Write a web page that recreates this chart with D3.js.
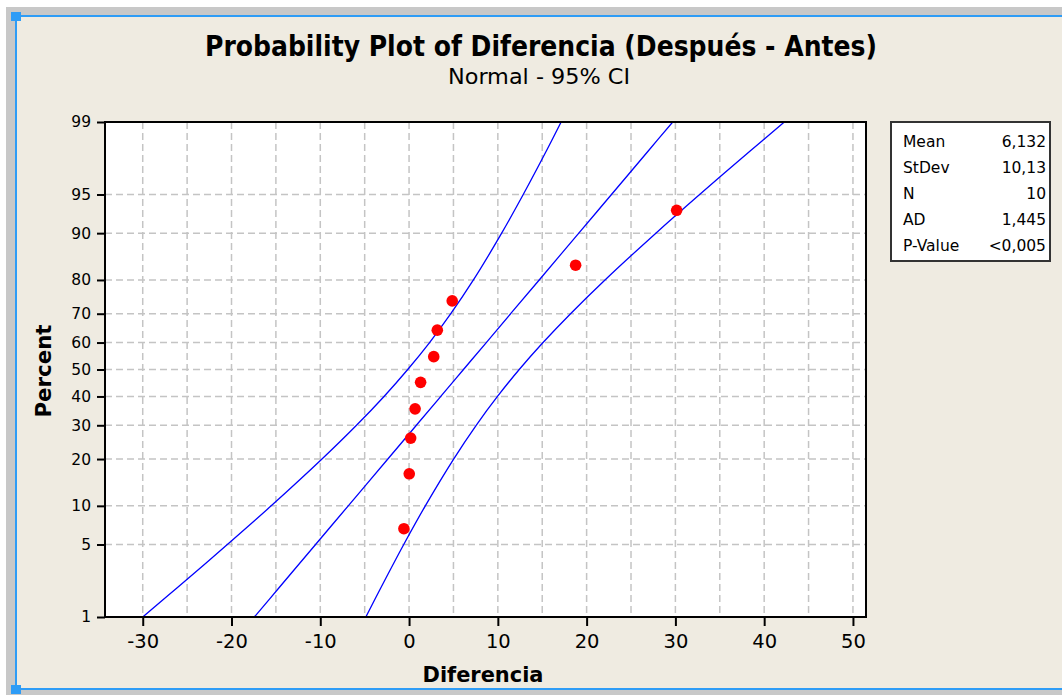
<!DOCTYPE html>
<html>
<head>
<meta charset="utf-8">
<script src="https://cdn.jsdelivr.net/npm/d3@7"></script>
<style>
  body { margin: 0; background: #fff; }
  svg { display: block; }
  text { font-family: 'DejaVu Sans', Verdana, sans-serif; fill: #000; }
  .cond { font-family: 'DejaVu Sans Condensed', 'DejaVu Sans', sans-serif; font-stretch: condensed; }
</style>
</head>
<body>
<script>
// data
var diferencia = [-0.58, 0.02, 0.18, 0.68, 1.30, 2.78, 3.18, 4.86, 18.76, 30.14];
var percent = [6.73, 16.35, 25.96, 35.58, 45.19, 54.81, 64.42, 74.04, 83.65, 93.27];

// fitted line and 95% CI bands, x at each percent level
var bandPercent = [1, 2, 5, 10, 20, 30, 40, 50, 60, 70, 80, 90, 95, 98, 99];
var fitX = [-17.43, -14.67, -10.53, -6.85, -2.39, 0.82, 3.57, 6.13, 8.70, 11.44, 14.66, 19.12, 22.80, 26.94, 29.70];
var lowerX = [-30.00, -26.15, -20.47, -15.53, -9.81, -5.92, -2.82, -0.15, 2.31, 4.70, 7.25, 10.43, 12.86, 15.46, 17.13];
var upperX = [-4.87, -3.19, -0.60, 1.83, 5.02, 7.56, 9.96, 12.41, 15.09, 18.19, 22.07, 27.80, 32.73, 38.42, 42.27];

var yTicks = [1, 5, 10, 20, 30, 40, 50, 60, 70, 80, 90, 95, 99];
var xTicks = [-30, -20, -10, 0, 10, 20, 30, 40, 50];
var xGrid = [-30, -25, -20, -15, -10, -5, 0, 5, 10, 15, 20, 25, 30, 35, 40, 45, 50];

var statLabels = ['Mean', 'StDev', 'N', 'AD', 'P-Value'];
var statValues = ['6,132', '10,13', '10', '1,445', '<0,005'];

var W = 1062, H = 695;
var pLeft = 105, pRight = 866, pTop = 122, pBottom = 617;

// inverse normal cdf (Acklam), used for the probability axis
function probit(p) {
  var a = [-3.969683028665376e+01, 2.209460984245205e+02, -2.759285104469687e+02, 1.383577518672690e+02, -3.066479806614716e+01, 2.506628277459239e+00];
  var b = [-5.447609879822406e+01, 1.615858368580409e+02, -1.556989798598866e+02, 6.680131188771972e+01, -1.328068155288572e+01];
  var c = [-7.784894002430293e-03, -3.223964580411365e-01, -2.400758277161838e+00, -2.549732539343734e+00, 4.374664141464968e+00, 2.938163982698783e+00];
  var d = [7.784695709041462e-03, 3.224671290700398e-01, 2.445134137142996e+00, 3.754408661907416e+00];
  var pl = 0.02425, q, r;
  if (p < pl) {
    q = Math.sqrt(-2 * Math.log(p));
    return (((((c[0]*q+c[1])*q+c[2])*q+c[3])*q+c[4])*q+c[5]) / ((((d[0]*q+d[1])*q+d[2])*q+d[3])*q+1);
  }
  if (p > 1 - pl) {
    q = Math.sqrt(-2 * Math.log(1 - p));
    return -(((((c[0]*q+c[1])*q+c[2])*q+c[3])*q+c[4])*q+c[5]) / ((((d[0]*q+d[1])*q+d[2])*q+d[3])*q+1);
  }
  q = p - 0.5; r = q * q;
  return (((((a[0]*r+a[1])*r+a[2])*r+a[3])*r+a[4])*r+a[5])*q / (((((b[0]*r+b[1])*r+b[2])*r+b[3])*r+b[4])*r+1);
}

var x = d3.scaleLinear().domain([-34.25, 51.47]).range([pLeft, pRight]);
var zScale = d3.scaleLinear().domain([probit(0.01), probit(0.99)]).range([pBottom, pTop]);
function y(pct) { return zScale(probit(pct / 100)); }

var svg = d3.select('body').append('svg').attr('width', W).attr('height', H);

// window chrome
svg.append('rect').attr('x', 6).attr('y', 7).attr('width', W - 6).attr('height', H - 7).attr('fill', '#c8c8c8');
svg.append('rect').attr('x', 16).attr('y', 16).attr('width', W - 16).attr('height', 673).attr('fill', '#efebe1');
svg.append('line').attr('x1', 16).attr('x2', W).attr('y1', 16).attr('y2', 16).attr('stroke', '#2e9cf6').attr('stroke-width', 2);
svg.append('line').attr('x1', 16).attr('x2', W).attr('y1', 689).attr('y2', 689).attr('stroke', '#2e9cf6').attr('stroke-width', 2);
svg.append('line').attr('x1', 16).attr('x2', 16).attr('y1', 15).attr('y2', 690).attr('stroke', '#2e9cf6').attr('stroke-width', 2);
svg.append('rect').attr('x', 11).attr('y', 12).attr('width', 10).attr('height', 9).attr('fill', '#2e9cf6');
svg.append('rect').attr('x', 11).attr('y', 685).attr('width', 10).attr('height', 9).attr('fill', '#2e9cf6');

// titles
svg.append('text').attr('class', 'cond').attr('x', 541).attr('y', 56).attr('text-anchor', 'middle')
  .attr('font-size', 28).attr('font-weight', 'bold')
  .attr('textLength', 672).attr('lengthAdjust', 'spacingAndGlyphs')
  .text('Probability Plot of Diferencia (Después - Antes)');
svg.append('text').attr('class', 'cond').attr('x', 539).attr('y', 84).attr('text-anchor', 'middle')
  .attr('font-size', 21)
  .attr('textLength', 182).attr('lengthAdjust', 'spacingAndGlyphs')
  .text('Normal - 95% CI');

// plot area
svg.append('rect').attr('x', pLeft).attr('y', pTop).attr('width', pRight - pLeft).attr('height', pBottom - pTop).attr('fill', '#fff');

var grid = svg.append('g').attr('stroke', '#c4c4c4').attr('stroke-width', 1.5).attr('stroke-dasharray', '7,4');
grid.selectAll('.vg').data(xGrid).enter().append('line')
  .attr('x1', function(d) { return x(d); }).attr('x2', function(d) { return x(d); })
  .attr('y1', pTop).attr('y2', pBottom);
grid.selectAll('.hg').data(yTicks.slice(1, -1)).enter().append('line')
  .attr('x1', pLeft).attr('x2', pRight)
  .attr('y1', function(d) { return y(d); }).attr('y2', function(d) { return y(d); });

svg.append('clipPath').attr('id', 'clip').append('rect')
  .attr('x', pLeft).attr('y', pTop).attr('width', pRight - pLeft).attr('height', pBottom - pTop);

var line = d3.line()
  .x(function(d) { return x(d[0]); })
  .y(function(d) { return y(d[1]); })
  .curve(d3.curveCatmullRom);

var curves = svg.append('g').attr('clip-path', 'url(#clip)');
[lowerX, fitX, upperX].forEach(function(arr) {
  curves.append('path')
    .datum(arr.map(function(v, i) { return [v, bandPercent[i]]; }))
    .attr('d', line).attr('fill', 'none').attr('stroke', '#0000ff').attr('stroke-width', 1.3);
});

svg.append('g').selectAll('circle').data(diferencia).enter().append('circle')
  .attr('cx', function(d) { return x(d); })
  .attr('cy', function(d, i) { return y(percent[i]); })
  .attr('r', 5.8).attr('fill', '#ff0000');

// axes
var xAxis = svg.append('g').attr('transform', 'translate(0,' + pBottom + ')')
  .call(d3.axisBottom(x).tickValues(xTicks).tickSize(9).tickPadding(8).tickFormat(function(d) { return String(d); }));
xAxis.selectAll('text').attr('font-size', 19.5).attr('fill', '#000').attr('dy', '0.71em').attr('font-family', "'DejaVu Sans', sans-serif");

var yAxis = svg.append('g').attr('transform', 'translate(' + pLeft + ',0)')
  .call(d3.axisLeft(zScale).tickValues(yTicks.map(function(p) { return probit(p / 100); }))
    .tickSize(8).tickPadding(6).tickFormat(function(d, i) { return yTicks[i]; }));
yAxis.selectAll('text').attr('font-size', 15.5).attr('fill', '#000').attr('font-family', "'DejaVu Sans', sans-serif");

[xAxis, yAxis].forEach(function(g) {
  g.select('.domain').remove();
  g.selectAll('.tick line').attr('stroke', '#000').attr('stroke-width', 2);
});

svg.append('rect').attr('x', pLeft).attr('y', pTop).attr('width', pRight - pLeft).attr('height', pBottom - pTop)
  .attr('fill', 'none').attr('stroke', '#000').attr('stroke-width', 2);

// axis titles
svg.append('text').attr('x', 483).attr('y', 682).attr('text-anchor', 'middle')
  .attr('font-size', 21).attr('font-weight', 'bold')
  .attr('textLength', 121).attr('lengthAdjust', 'spacingAndGlyphs').text('Diferencia');
svg.append('text').attr('transform', 'translate(51,371) rotate(-90)').attr('text-anchor', 'middle')
  .attr('font-size', 21).attr('font-weight', 'bold')
  .attr('textLength', 93).attr('lengthAdjust', 'spacingAndGlyphs').text('Percent');

// stats box
svg.append('rect').attr('x', 891).attr('y', 122).attr('width', 159).attr('height', 139)
  .attr('fill', '#fff').attr('stroke', '#333').attr('stroke-width', 2);
var rows = svg.append('g').selectAll('g').data(statLabels).enter().append('g')
  .attr('transform', function(d, i) { return 'translate(0,' + (141 + i * 26.1) + ')'; });
rows.append('text').attr('x', 903).attr('dy', '0.36em').attr('font-size', 15.5).text(function(d) { return d; });
rows.append('text').attr('x', 1046).attr('dy', '0.36em').attr('font-size', 15.5).attr('text-anchor', 'end')
  .text(function(d, i) { return statValues[i]; });
</script>
</body>
</html>
